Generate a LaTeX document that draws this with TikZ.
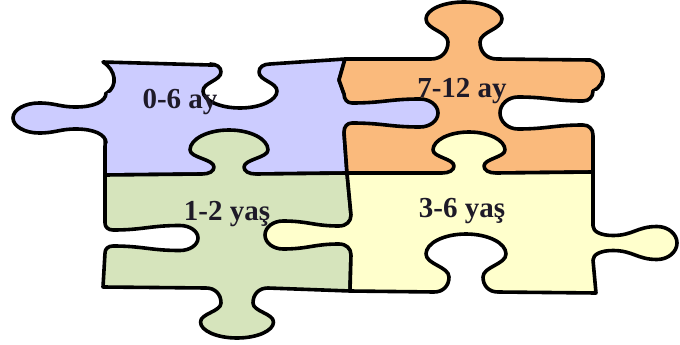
\documentclass[tikz,border=0pt]{standalone}
\usepackage{fontspec}
\setmainfont{Liberation Serif}

\definecolor{babyblue}{RGB}{204,204,255}
\definecolor{peach}{RGB}{250,186,124}
\definecolor{sage}{RGB}{214,228,188}
\definecolor{cream}{RGB}{255,255,204}
\definecolor{ink}{RGB}{30,26,40}

\tikzset{
  outline/.style={draw=black, line width=3.6pt, line join=round, line cap=round},
  tag/.style={text=ink, font=\bfseries\fontsize{29}{30}\selectfont, anchor=base},
  knob head/.store in=\kw, knob neck/.store in=\kn,
  knob gap/.store in=\kg, knob waist/.store in=\kv,
  knob bulb/.store in=\ke, knob len/.store in=\kh,
  knob head=20, knob neck=10, knob gap=20, knob waist=8, knob bulb=15, knob len=40,
  knob paint/.style={fill=white},
  knob color/.style={knob paint/.style={fill=#1}},
  knob line/.style={insert path={
    .. controls ({-\kn-0.4*(\kg-\kn)},0) and ({-\kn},{0.4*\kv}) .. ({-\kn},\kv)
    .. controls ({-\kn},{\kv+0.45*(\kh-\ke-\kv)}) and ({-\kw},{\kh-\ke-0.45*(\kh-\ke-\kv)}) .. ({-\kw},{\kh-\ke})
    .. controls ({-\kw},{\kh-0.45*\ke}) and ({-0.55*\kw},\kh) .. (0,\kh)
    .. controls ({0.55*\kw},\kh) and (\kw,{\kh-0.45*\ke}) .. (\kw,{\kh-\ke})
    .. controls (\kw,{\kh-\ke-0.45*(\kh-\ke-\kv)}) and (\kn,{\kv+0.45*(\kh-\ke-\kv)}) .. (\kn,\kv)
    .. controls (\kn,{0.4*\kv}) and ({\kn+0.4*(\kg-\kn)},0) .. (\kg,0)}},
  % a tab (or a hole, painted white) sitting on an edge, pointing along local y
  knob/.pic={
    \fill[knob paint] ({-\kg},-4) -- ({-\kg},0) [knob line] -- (\kg,-4) -- cycle;
    \draw[outline] ({-\kg},0) [knob line];
  }
}

\begin{document}
\begin{tikzpicture}[x=1pt, y=-1pt]
\useasboundingbox (0,0) rectangle (680,345);

\coordinate (nw) at (103,62);
\coordinate (n)  at (345,59);
\coordinate (ne) at (590,60);
\coordinate (w)  at (105,175);
\coordinate (c)  at (347,173);
\coordinate (e)  at (593,172);
\coordinate (sw) at (103,287);
\coordinate (s)  at (350,291);
\coordinate (se) at (596,293);

% bodies
\path[fill=babyblue, outline] (nw) -- (210,65) -- (270,64) -- (n) -- (339,80) -- (344,94) -- (344,132) -- (c)
  -- (256,174) -- (202,174) -- (w) -- (105,147) -- (107,93) .. controls (118,86) and (116,70) .. (nw) -- cycle;
\path[fill=peach, outline] (n) -- (431,59) -- (497,59) -- (ne) .. controls (606,64) and (608,84) .. (593,91)
  -- (593,135) -- (e) -- (496,173) -- (442,173) -- (c) -- (344,132) -- (344,94) -- (339,80) -- cycle;
\path[fill=sage, outline] (w) -- (202,174) -- (256,174) -- (c) -- (351,215) -- (351,255) -- (s)
  -- (268,288) -- (206,288) -- (sw) -- (105,253) -- (105,223) -- cycle;
\path[fill=cream, outline] (c) -- (442,173) -- (496,173) -- (e) -- (593,226) -- (593,260) -- (se)
  -- (498,292) -- (434,292) -- (s) -- (351,255) -- (351,215) -- cycle;

% tabs and holes
\pic[rotate=-90, knob color=babyblue, knob head=15, knob neck=11, knob gap=25, knob waist=30, knob bulb=26, knob len=93] at (106,118) {knob};
\pic[rotate=0, knob head=37, knob neck=19, knob gap=30, knob waist=8, knob bulb=17, knob len=44] at (240,64) {knob};
\pic[rotate=90, knob color=babyblue, knob head=14, knob neck=10, knob gap=19, knob waist=8, knob bulb=18, knob len=94] at (344,113) {knob};
\pic[rotate=180, knob color=sage, knob head=39, knob neck=15, knob gap=27, knob waist=7, knob bulb=20, knob len=44] at (229,174) {knob};
\pic[rotate=180, knob color=peach, knob head=38, knob neck=16, knob gap=33, knob waist=17, knob bulb=17, knob len=57] at (464,59) {knob};
\pic[rotate=-90, knob head=16, knob neck=12, knob gap=22, knob waist=10, knob bulb=18, knob len=93] at (593,113) {knob};
\pic[rotate=180, knob color=cream, knob head=36, knob neck=15, knob gap=27, knob waist=7, knob bulb=18, knob len=41] at (469,173) {knob};
\pic[rotate=90, knob head=12.5, knob neck=8, knob gap=15, knob waist=8, knob bulb=18, knob len=93] at (105,238) {knob};
\pic[rotate=-90, knob color=cream, knob head=14, knob neck=9, knob gap=20, knob waist=12, knob bulb=18, knob len=86] at (351,235) {knob};
\pic[rotate=90, knob color=cream, knob head=16.5, knob neck=7.5, knob gap=17, knob waist=20, knob bulb=20, knob len=84] at (593,243) {knob};
\pic[rotate=180, knob head=40, knob neck=17, knob gap=32, knob waist=15, knob bulb=20, knob len=58] at (466,292) {knob};
\pic[rotate=0, knob color=sage, knob head=36.5, knob neck=16, knob gap=31, knob waist=15, knob bulb=16, knob len=50] at (237,288) {knob};

\node[tag] (age06)  at (180,108) {0-6 ay};
\node[tag] (age712) at (462,97)  {7-12 ay};
\node[tag] (age12)  at (227,220) {1-2 yaş};
\node[tag] (age36)  at (462,217) {3-6 yaş};
\end{tikzpicture}
\end{document}
